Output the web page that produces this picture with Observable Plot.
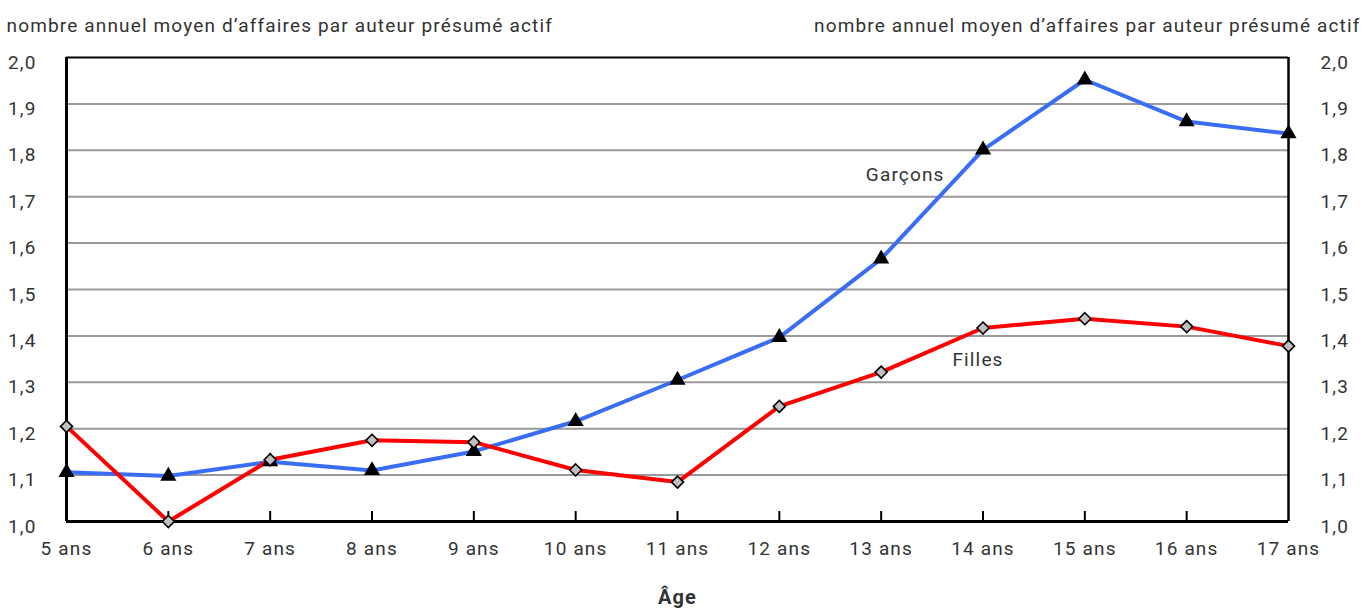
<!DOCTYPE html>
<html>
<head>
<meta charset="utf-8">
<script src="https://cdn.jsdelivr.net/npm/d3@7"></script>
<script src="https://cdn.jsdelivr.net/npm/@observablehq/plot@0.6"></script>
<style>
  body { margin: 0; background: white; }
  svg text { letter-spacing: 1.15px; }
</style>
</head>
<body>
<div id="chart"></div>
<script>
const ages = ["5 ans","6 ans","7 ans","8 ans","9 ans","10 ans","11 ans","12 ans","13 ans","14 ans","15 ans","16 ans","17 ans"];
const garcons = [1.106, 1.098, 1.129, 1.110, 1.151, 1.216, 1.305, 1.397, 1.566, 1.801, 1.952, 1.862, 1.836];
const filles  = [1.205, 1.000, 1.133, 1.175, 1.171, 1.111, 1.085, 1.248, 1.322, 1.417, 1.437, 1.420, 1.378];
const yTicks = [1.0, 1.1, 1.2, 1.3, 1.4, 1.5, 1.6, 1.7, 1.8, 1.9, 2.0];
const gridTicks = [1.1, 1.2, 1.3, 1.4, 1.5, 1.6, 1.7, 1.8, 1.9];
const yTitle = "nombre annuel moyen d\u2019affaires par auteur présumé actif";
const xTitle = "Âge";
const seriesLabels = ["Garçons", "Filles"];

const gData = ages.map((a, i) => ({age: a, v: garcons[i]}));
const fData = ages.map((a, i) => ({age: a, v: filles[i]}));
const fmt = d => d3.format(".1f")(d).replace(".", ",");
const font = "Roboto, 'DejaVu Sans Condensed', sans-serif";

const chart = Plot.plot({
  width: 1367,
  height: 616,
  marginTop: 57,
  marginBottom: 95,
  marginLeft: 66,
  marginRight: 79,
  style: {fontFamily: font, fontSize: "19px", color: "#333", background: "white", overflow: "visible"},
  x: {type: "point", domain: ages, padding: 0, round: false},
  y: {domain: [1, 2]},
  marks: [
    Plot.ruleY(gridTicks, {stroke: "#999", strokeWidth: 2}),
    Plot.ruleX(ages.slice(1, -1), {x: d => d, y1: 1, y2: 1.0215, stroke: "black", strokeWidth: 2}),
    Plot.ruleY([2], {stroke: "black", strokeWidth: 2}),
    Plot.ruleX([ages[ages.length - 1]], {stroke: "black", strokeWidth: 2.5}),
    Plot.ruleX([ages[0]], {stroke: "black", strokeWidth: 3}),
    Plot.ruleY([1], {stroke: "black", strokeWidth: 3}),
    Plot.axisX({tickSize: 0, tickPadding: 20, label: null, fontSize: 19, tickFormat: d => d}),
    Plot.axisY({anchor: "left", ticks: yTicks, tickSize: 0, tickPadding: 30, dy: 5, label: null, fontSize: 19, tickFormat: fmt}),
    Plot.axisY({anchor: "right", ticks: yTicks, tickSize: 0, tickPadding: 32, dy: 5, label: null, fontSize: 19, tickFormat: fmt}),
    Plot.line(gData, {x: "age", y: "v", stroke: "#3a6df5", strokeWidth: 4}),
    Plot.line(fData, {x: "age", y: "v", stroke: "#ff0000", strokeWidth: 4}),
    Plot.dot(gData, {x: "age", y: "v", symbol: "triangle", r: 6, fill: "black", stroke: "none"}),
    Plot.dot(fData, {x: "age", y: "v", symbol: "diamond2", r: 5.4, fill: "#c0c0c0", stroke: "black", strokeWidth: 1.6}),
    Plot.text([seriesLabels[0]], {x: () => ages[8], y: () => 1.746, text: d => d, dx: 24, fontSize: 19, fill: "#333"}),
    Plot.text([seriesLabels[1]], {x: () => ages[9], y: () => 1.349, text: d => d, dx: -5, fontSize: 19, fill: "#333"}),
    Plot.text([yTitle], {frameAnchor: "top-left", text: d => d, textAnchor: "start", dx: -60, dy: -39, fontSize: 19, fill: "#333"}),
    Plot.text([yTitle], {frameAnchor: "top-right", text: d => d, textAnchor: "end", dx: 72, dy: -39, fontSize: 19, fill: "#333"}),
    Plot.text([xTitle], {frameAnchor: "bottom", text: d => d, dy: 82, fontSize: 20, fontWeight: "bold", fill: "#333"})
  ]
});
document.getElementById("chart").append(chart);
</script>
</body>
</html>
